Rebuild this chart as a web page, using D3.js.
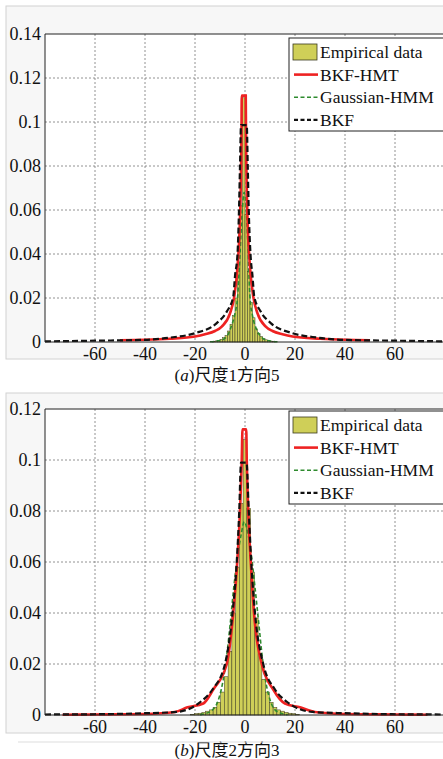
<!DOCTYPE html>
<html>
<head>
<meta charset="utf-8">
<script src="https://cdn.jsdelivr.net/npm/d3@7"></script>
<style>
  body { margin: 0; background: #fff; }
  svg text { font-family: 'Liberation Serif', 'Times New Roman', 'DejaVu Serif', 'Noto Sans CJK SC', serif; fill: #111; }
</style>
</head>
<body>
<div id="chart"></div>
<script>
// ---- data ----
const xTicks = [-60, -40, -20, 0, 20, 40, 60];
const yTicksA = [0, 0.02, 0.04, 0.06, 0.08, 0.1, 0.12, 0.14];
const yTicksB = [0, 0.02, 0.04, 0.06, 0.08, 0.1, 0.12];
const legendLabels = ["Empirical data", "BKF-HMT", "Gaussian-HMM", "BKF"];
const captions = [["a", "尺度1方向5"], ["b", "尺度2方向3"]];

// (a) histogram, bin width 1
const histCentersA = [-12.5, -11.5, -10.5, -9.5, -8.5, -7.5, -6.5, -5.5, -4.5, -3.5, -2.5, -1.5, -0.5, 0.5, 1.5, 2.5, 3.5, 4.5, 5.5, 6.5, 7.5, 8.5, 9.5, 10.5, 11.5];
const histValuesA = [0.0003, 0.0005, 0.0008, 0.0012, 0.002, 0.003, 0.005, 0.008, 0.012, 0.02, 0.036, 0.062, 0.111, 0.058, 0.032, 0.018, 0.011, 0.006, 0.004, 0.0025, 0.0015, 0.001, 0.0007, 0.0004, 0.0003];

const bkfHmtXA = [-50, -40, -30, -20, -16, -12, -9.3, -6, -4.3, -3, -2.2, -1.7, -1.4, -1.3, 0.3, 0.4, 0.7, 1.2, 2, 3.3, 5, 8.3, 11, 15, 19, 30, 40, 50];
const bkfHmtYA = [0.0008, 0.001, 0.0015, 0.0025, 0.0035, 0.005, 0.007, 0.013, 0.0206, 0.034, 0.05, 0.07, 0.095, 0.112, 0.112, 0.095, 0.07, 0.05, 0.034, 0.0206, 0.013, 0.007, 0.005, 0.0035, 0.0025, 0.0015, 0.001, 0.0008];

const gaussXA = [-14, -12, -9, -7, -5.5, -4, -3, -2, -1.2, -0.3, 0.6, 1.3, 2, 3, 4.5, 6, 8, 11, 13];
const gaussYA = [0.0001, 0.0003, 0.001, 0.003, 0.007, 0.013, 0.02, 0.04, 0.058, 0.068, 0.058, 0.04, 0.02, 0.012, 0.006, 0.003, 0.001, 0.0003, 0.0001];

const bkfXA = [-80, -60, -40, -30, -20, -11.3, -7.3, -4.7, -4, -3, -2.4, -2, -1.6, 0.7, 1.1, 1.5, 2.2, 3, 3.7, 6.3, 10.3, 19, 29, 39, 60, 80];
const bkfYA = [0.0003, 0.0006, 0.001, 0.002, 0.004, 0.0086, 0.0138, 0.0206, 0.03, 0.04, 0.06, 0.08, 0.0986, 0.0986, 0.08, 0.06, 0.04, 0.03, 0.0206, 0.0138, 0.0086, 0.004, 0.002, 0.001, 0.0006, 0.0003];

// (b) histogram, bin width 1.5
const histCentersB = [-21, -19.5, -18, -16.5, -15, -13.5, -12, -10.5, -9, -7.5, -6, -4.5, -3, -1.5, 0, 1.5, 3, 4.5, 6, 7.5, 9, 10.5, 12, 13.5, 15, 16.5, 18, 19.5, 21];
const histValuesB = [0.0003, 0.0005, 0.0007, 0.001, 0.0015, 0.002, 0.003, 0.005, 0.009, 0.015, 0.025, 0.04, 0.058, 0.083, 0.108, 0.081, 0.056, 0.038, 0.024, 0.014, 0.009, 0.005, 0.003, 0.002, 0.0015, 0.001, 0.0007, 0.0005, 0.0003];

const bkfHmtXB = [-73, -60, -40, -28, -23, -16.7, -12.7, -7.3, -4.7, -3.1, -2, -1.3, -1, 0.5, 0.7, 1.3, 2.3, 3.6, 6.7, 11.3, 16, 22, 28, 40, 60, 73];
const bkfHmtYB = [0.0001, 0.0002, 0.0004, 0.0012, 0.003, 0.0045, 0.01, 0.02, 0.04, 0.06, 0.08, 0.1, 0.112, 0.112, 0.1, 0.08, 0.06, 0.04, 0.02, 0.01, 0.0045, 0.003, 0.0012, 0.0004, 0.0002, 0.0001];

const gaussXB = [-18, -16, -13, -11, -9.5, -8, -6, -4.5, -3, -1.5, -0.3, 1, 2.5, 4, 5.5, 7, 8.5, 10, 12, 15, 17];
const gaussYB = [0.0001, 0.0005, 0.002, 0.005, 0.01, 0.018, 0.035, 0.05, 0.062, 0.071, 0.0758, 0.072, 0.063, 0.05, 0.036, 0.022, 0.012, 0.006, 0.002, 0.0005, 0.0001];

const bkfXB = [-80, -60, -40, -27.3, -18, -13, -8, -5, -3.3, -2.3, -1.6, 0.6, 1.5, 2.5, 4, 7.3, 12, 17, 27, 40, 60, 80];
const bkfYB = [0.0002, 0.0003, 0.0007, 0.0012, 0.005, 0.01, 0.02, 0.04, 0.06, 0.08, 0.099, 0.099, 0.08, 0.06, 0.04, 0.02, 0.01, 0.005, 0.0012, 0.0007, 0.0003, 0.0002];

// ---- drawing ----
const serif = "'Liberation Serif', 'Times New Roman', 'DejaVu Serif', 'Noto Sans CJK SC', serif";

const svg = d3.select('#chart')
    .append('svg')
    .attr('width', 443)
    .attr('height', 759)
    .attr('font-family', serif);

const barFill = '#cfcf58';
const barEdge = '#3b3b1e';

function drawPanel(p) {
    let g = svg.append('g');

    // scanned figure frame
    g.append('rect')
        .attr('x', 6).attr('y', p.frameTop)
        .attr('width', 450).attr('height', p.frameBottom - p.frameTop)
        .attr('fill', '#f7f7f7')
        .attr('stroke', '#d2d2d2');

    let xScale = d3.scaleLinear().domain([-80, 80]).range([45, 445]);
    let yScale = d3.scaleLinear().domain([0, p.yMax]).range([p.bottom, p.top]);

    g.append('rect')
        .attr('x', 45).attr('y', p.top)
        .attr('width', 400).attr('height', p.bottom - p.top)
        .attr('fill', '#fff');

    // grid
    g.selectAll('.vgrid')
        .data(xTicks)
        .join('line')
        .attr('x1', d => xScale(d)).attr('x2', d => xScale(d))
        .attr('y1', p.top).attr('y2', p.bottom)
        .attr('stroke', '#777').attr('stroke-width', 0.8)
        .attr('stroke-dasharray', '2,2');

    g.selectAll('.hgrid')
        .data(p.yTicks.filter(d => d > 0 && d < p.yMax))
        .join('line')
        .attr('x1', 45).attr('x2', 445)
        .attr('y1', d => yScale(d)).attr('y2', d => yScale(d))
        .attr('stroke', '#777').attr('stroke-width', 0.8)
        .attr('stroke-dasharray', '2,2');

    // histogram
    g.selectAll('.bar')
        .data(p.centers.map((c, i) => ({c: c, v: p.values[i]})))
        .join('rect')
        .attr('x', d => xScale(d.c - p.binWidth / 2))
        .attr('width', d => xScale(d.c + p.binWidth / 2) - xScale(d.c - p.binWidth / 2))
        .attr('y', d => yScale(d.v))
        .attr('height', d => yScale(0) - yScale(d.v))
        .attr('fill', barFill)
        .attr('stroke', barEdge)
        .attr('stroke-width', 0.5);

    let line = d3.line()
        .x(d => xScale(d[0]))
        .y(d => yScale(d[1]))
        .curve(d3.curveMonotoneX);

    let zip = (xs, ys) => xs.map((x, i) => [x, ys[i]]);

    g.append('path')
        .attr('d', line(zip(p.gaussX, p.gaussY)))
        .attr('fill', 'none').attr('stroke', '#2e8b2e')
        .attr('stroke-width', 1.6).attr('stroke-dasharray', '4,2.5');

    g.append('path')
        .attr('d', line(zip(p.hmtX, p.hmtY)))
        .attr('fill', 'none').attr('stroke', '#ee2222')
        .attr('stroke-width', 2.6);

    g.append('path')
        .attr('d', line(zip(p.bkfX, p.bkfY)))
        .attr('fill', 'none').attr('stroke', '#111')
        .attr('stroke-width', 2.2).attr('stroke-dasharray', '6,3');

    // axes box (left, top, bottom)
    g.append('path')
        .attr('d', `M445,${p.top}H45V${p.bottom}H445`)
        .attr('fill', 'none').attr('stroke', '#222').attr('stroke-width', 1);

    g.selectAll('.ylab')
        .data(p.yTicks)
        .join('text')
        .attr('x', 41)
        .attr('y', d => yScale(d))
        .attr('dy', '0.35em')
        .attr('text-anchor', 'end')
        .style('font-family', serif)
        .style('font-size', '18px')
        .text(d => d);

    g.selectAll('.xlab')
        .data(xTicks)
        .join('text')
        .attr('x', d => xScale(d))
        .attr('y', p.bottom + 12)
        .attr('dy', '0.35em')
        .attr('text-anchor', 'middle')
        .style('font-family', serif)
        .style('font-size', '18px')
        .text(d => d);

    // legend
    let leg = g.append('g');
    leg.append('rect')
        .attr('x', 289).attr('y', p.legTop)
        .attr('width', 160).attr('height', 93)
        .attr('fill', '#fff').attr('stroke', '#222').attr('stroke-width', 1);

    let rowY = i => p.legTop + 14 + i * 22.6;
    leg.append('rect')
        .attr('x', 293).attr('y', rowY(0) - 8)
        .attr('width', 24).attr('height', 16)
        .attr('fill', barFill).attr('stroke', barEdge).attr('stroke-width', 0.8);
    let styles = [null,
        {c: '#ee2222', w: 2.6, dash: null},
        {c: '#2e8b2e', w: 1.6, dash: '4,2.5'},
        {c: '#111', w: 2.2, dash: '4,2.5'}];
    styles.forEach((s, i) => {
        if (!s) return;
        leg.append('line')
            .attr('x1', 294).attr('x2', 318)
            .attr('y1', rowY(i)).attr('y2', rowY(i))
            .attr('stroke', s.c).attr('stroke-width', s.w)
            .attr('stroke-dasharray', s.dash);
    });
    leg.selectAll('.ltxt')
        .data(legendLabels)
        .join('text')
        .attr('x', 320)
        .attr('y', (d, i) => rowY(i))
        .attr('dy', '0.35em')
        .style('font-family', serif)
        .style('font-size', '17.5px')
        .text(d => d);

    // caption
    let cap = g.append('text')
        .attr('x', 227).attr('y', p.capY)
        .attr('dy', '0.35em')
        .attr('text-anchor', 'middle')
        .style('font-family', serif)
        .style('font-size', '17px');
    cap.append('tspan').text('(');
    cap.append('tspan').style('font-style', 'italic').text(p.caption[0]);
    cap.append('tspan').text(')' + p.caption[1]);
}

drawPanel({
    frameTop: 6, frameBottom: 359, top: 34, bottom: 342, yMax: 0.14,
    yTicks: yTicksA, legTop: 38, capY: 375, caption: captions[0],
    centers: histCentersA, values: histValuesA, binWidth: 1,
    hmtX: bkfHmtXA, hmtY: bkfHmtYA, gaussX: gaussXA, gaussY: gaussYA, bkfX: bkfXA, bkfY: bkfYA
});

drawPanel({
    frameTop: 393, frameBottom: 733, top: 409, bottom: 715, yMax: 0.12,
    yTicks: yTicksB, legTop: 411, capY: 750, caption: captions[1],
    centers: histCentersB, values: histValuesB, binWidth: 1.5,
    hmtX: bkfHmtXB, hmtY: bkfHmtYB, gaussX: gaussXB, gaussY: gaussYB, bkfX: bkfXB, bkfY: bkfYB
});

// thin rule under panel (b)
svg.append('line')
    .attr('x1', 18).attr('x2', 443)
    .attr('y1', 742).attr('y2', 742)
    .attr('stroke', '#ddd');
</script>
</body>
</html>
